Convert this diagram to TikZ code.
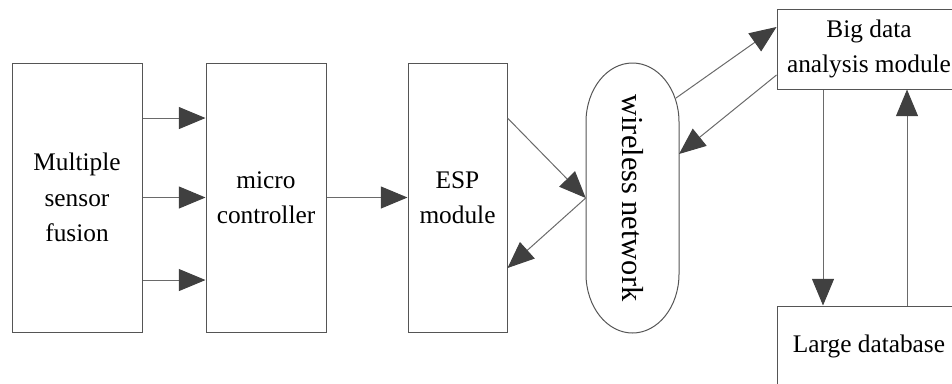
\documentclass[tikz,border=0pt]{standalone}
\usepackage{fontspec}
\setmainfont{Liberation Serif}
\usetikzlibrary{arrows.meta,calc}
\definecolor{linegray}{HTML}{6A6A6A}
\definecolor{boxgray}{HTML}{555555}
\definecolor{headgray}{HTML}{404040}
\tikzset{
  blockbox/.style={draw=boxgray, line width=0.75pt, rectangle, align=center, inner sep=0pt,
    font=\fontsize{19}{26.5}\selectfont},
  conn/.style={draw=linegray, line width=0.75pt,
    -{Triangle[length=20pt,width=16.5pt,fill=headgray,color=headgray]}},
}
\begin{document}
\begin{tikzpicture}[x=0.75pt,y=-0.75pt]
\useasboundingbox (0,0) rectangle (952,383);
% blocks
\node[blockbox, minimum width=97.5pt, minimum height=201.75pt] (sf) at (77,197.5) {Multiple\\sensor\\fusion};
\node[blockbox, minimum width=90pt, minimum height=201.75pt] (mc) at (266,197.5) {micro\\controller};
\node[blockbox, minimum width=74.25pt, minimum height=201.75pt] (esp) at (457.5,197.5) {ESP\\module};
\node[inner sep=0pt, minimum width=69.75pt, minimum height=202.5pt,
      font=\fontsize{22.8}{26.5}\selectfont] (wn) at (632.5,198) {\rotatebox{-90}{wireless network}};
\draw[boxgray, line width=0.75pt] (586,122) arc[start angle=180,end angle=360,x radius=46.5,y radius=59]
  -- (679,274) arc[start angle=0,end angle=180,x radius=46.5,y radius=59] -- cycle;
\node[blockbox, minimum width=138pt, minimum height=60pt] (bd) at (869,49) {Big data\\analysis module};
\node[blockbox, minimum width=138pt, minimum height=60pt] (db) at (869,346) {Large database};
\coordinate (wnout) at (676,98);
\coordinate (wnin) at (679,154);
% connectors
\draw[conn] ([yshift=59.6pt]sf.east) -- ([yshift=59.6pt]mc.west);
\draw[conn] (sf.east) -- (mc.west);
\draw[conn] ([yshift=-61.9pt]sf.east) -- ([yshift=-61.9pt]mc.west);
\draw[conn] (mc.east) -- (esp.west);
\draw[conn] ([yshift=59.6pt]esp.east) -- (wn.west);
\draw[conn] (wn.west) -- ([yshift=-52.9pt]esp.east);
\draw[conn] (wnout) -- ([yshift=16.5pt]bd.west);
\draw[conn] ([yshift=-19.5pt]bd.west) -- (wnin);
\draw[conn] ([xshift=-34.5pt]bd.south) -- ([xshift=-34.5pt]db.north);
\draw[conn] ([xshift=28.5pt]db.north) -- ([xshift=28.5pt]bd.south);
\end{tikzpicture}
\end{document}
